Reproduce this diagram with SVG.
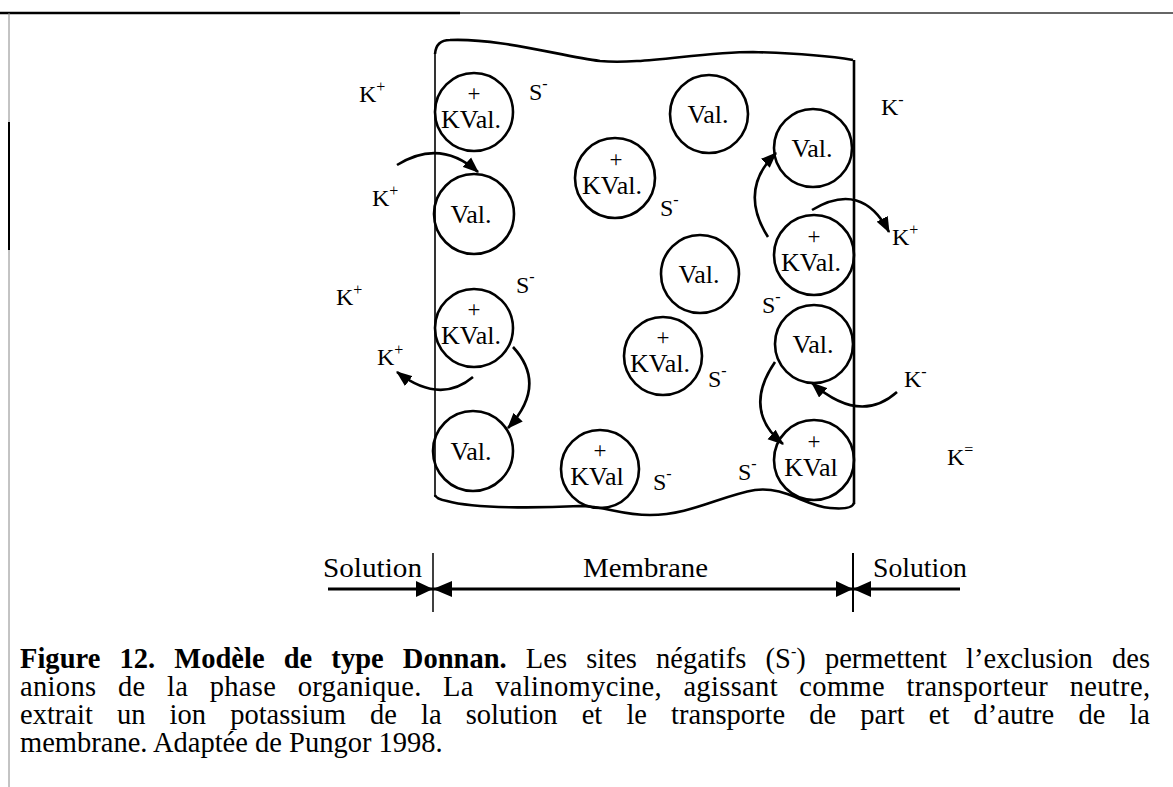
<svg xmlns="http://www.w3.org/2000/svg" width="1173" height="787" viewBox="0 0 1173 787">
<style>
text{font-family:"Liberation Serif",Tinos,"Times New Roman","DejaVu Serif",serif;fill:#000}
.ion{font-size:24px}
.sup{font-size:16px}
.cl{font-size:26px;text-anchor:middle}
.pl{font-size:23px;text-anchor:middle}
.c{fill:none;stroke:#000;stroke-width:2.6}
.arr{fill:none;stroke:#000;stroke-width:2.6;marker-end:url(#ah)}
.cap{font-size:28.5px}
.lab{font-size:27px}
</style>
<defs>
<marker id="ah" viewBox="0 0 14 11" refX="13" refY="5.5" markerWidth="16" markerHeight="13" markerUnits="userSpaceOnUse" orient="auto">
<path d="M0,0 L14,5.5 L0,11 z" fill="#000"/>
</marker>
</defs>
<rect width="1173" height="787" fill="#fff"/>
<g id="frame">
<line x1="0" y1="13" x2="460" y2="13" stroke="#000" stroke-width="2.5"/>
<line x1="460" y1="13" x2="1173" y2="13" stroke="#333" stroke-width="1.5"/>
<line x1="9" y1="13" x2="9" y2="787" stroke="#888" stroke-width="1"/>
<line x1="9" y1="122" x2="9" y2="250" stroke="#000" stroke-width="2"/>
</g>
<g id="membrane">
<path d="M435,497 L435,52" fill="none" stroke="#000" stroke-width="1.6"/>
<path d="M435,54 Q436,40 450,40 C500,38 560,56 600,61 C640,65 700,52 753,52 C790,53 830,56 853,60" fill="none" stroke="#000" stroke-width="2.6"/>
<path d="M854,60 L854,504" fill="none" stroke="#000" stroke-width="2.6"/>
<path d="M854,503 Q852,510 830,508 C805,506 785,486 755,490 C720,496 690,515 650,515 C620,515 605,506 580,506 C540,508 475,509 447,501 Q436,499 435,495" fill="none" stroke="#000" stroke-width="2.6"/>
</g>
<g id="kval1"><circle class="c" cx="474" cy="112" r="39"/><text class="pl" x="474" y="101">+</text><text class="cl" x="471" y="128">KVal.</text></g>
<g id="val1"><circle class="c" cx="474" cy="214" r="40"/><text class="cl" x="471" y="223">Val.</text></g>
<g id="kval2"><circle class="c" cx="474" cy="328" r="39"/><text class="pl" x="474" y="317">+</text><text class="cl" x="471" y="344">KVal.</text></g>
<g id="val2"><circle class="c" cx="473" cy="451" r="40"/><text class="cl" x="471" y="460">Val.</text></g>
<g id="kval3"><circle class="c" cx="615" cy="178" r="40"/><text class="pl" x="616" y="167">+</text><text class="cl" x="612" y="194">KVal.</text></g>
<g id="val3"><circle class="c" cx="709" cy="114" r="39"/><text class="cl" x="708" y="123">Val.</text></g>
<g id="val4"><circle class="c" cx="700" cy="274" r="39"/><text class="cl" x="699" y="283">Val.</text></g>
<g id="kval4"><circle class="c" cx="663" cy="356" r="39"/><text class="pl" x="663" y="345">+</text><text class="cl" x="660" y="372">KVal.</text></g>
<g id="kval5"><circle class="c" cx="600" cy="469" r="39"/><text class="pl" x="600" y="458">+</text><text class="cl" x="597" y="485">KVal</text></g>
<g id="val5"><circle class="c" cx="813" cy="148" r="39"/><text class="cl" x="812" y="157">Val.</text></g>
<g id="kval6"><circle class="c" cx="814" cy="255" r="40"/><text class="pl" x="814" y="244">+</text><text class="cl" x="811" y="271">KVal.</text></g>
<g id="val6"><circle class="c" cx="814" cy="344" r="39"/><text class="cl" x="813" y="353">Val.</text></g>
<g id="kval7"><circle class="c" cx="814" cy="460" r="40"/><text class="pl" x="814" y="449">+</text><text class="cl" x="811" y="476">KVal</text></g>
<g id="ions">
<text class="ion" x="359" y="102">K<tspan class="sup" dy="-10">+</tspan></text>
<text class="ion" x="372" y="206">K<tspan class="sup" dy="-10">+</tspan></text>
<text class="ion" x="336" y="305">K<tspan class="sup" dy="-10">+</tspan></text>
<text class="ion" x="377" y="365">K<tspan class="sup" dy="-10">+</tspan></text>
<text class="ion" x="881" y="115">K<tspan class="sup" dy="-10">-</tspan></text>
<text class="ion" x="892" y="245">K<tspan class="sup" dy="-10">+</tspan></text>
<text class="ion" x="904" y="387">K<tspan class="sup" dy="-10">-</tspan></text>
<text class="ion" x="947" y="465">K<tspan class="sup" dy="-10">=</tspan></text>
<text class="ion" x="529" y="100">S<tspan class="sup" dy="-11">-</tspan></text>
<text class="ion" x="660" y="216">S<tspan class="sup" dy="-11">-</tspan></text>
<text class="ion" x="516" y="293">S<tspan class="sup" dy="-11">-</tspan></text>
<text class="ion" x="708" y="387">S<tspan class="sup" dy="-11">-</tspan></text>
<text class="ion" x="762" y="313">S<tspan class="sup" dy="-11">-</tspan></text>
<text class="ion" x="653" y="490">S<tspan class="sup" dy="-11">-</tspan></text>
<text class="ion" x="738" y="480">S<tspan class="sup" dy="-11">-</tspan></text>
</g>
<g id="connectors">
<path class="arr" d="M397,165 Q440,138 478,172"/>
<path class="arr" d="M473,377 Q440,405 397,372"/>
<path class="arr" d="M513,347 Q548,385 508,428"/>
<path class="arr" d="M768,237 Q738,190 776,153"/>
<path class="arr" d="M812,210 Q862,180 889,232"/>
<path class="arr" d="M897,392 Q860,425 812,383"/>
<path class="arr" d="M775,362 Q742,410 783,444"/>
</g>
<g id="scale">
<line x1="328" y1="589" x2="960" y2="589" stroke="#000" stroke-width="3"/>
<line x1="433" y1="553" x2="433" y2="612" stroke="#000" stroke-width="1.5"/>
<line x1="853" y1="553" x2="853" y2="612" stroke="#000" stroke-width="2"/>
<polygon points="433,589 416,581 416,597"/>
<polygon points="433,589 452,581 452,597"/>
<polygon points="853,589 836,581 836,597"/>
<polygon points="853,589 871,581 871,597"/>
<text class="lab" x="323" y="577" textLength="99" lengthAdjust="spacingAndGlyphs">Solution</text>
<text class="lab" x="583" y="577" textLength="125" lengthAdjust="spacingAndGlyphs">Membrane</text>
<text class="lab" x="873" y="577" textLength="94" lengthAdjust="spacingAndGlyphs">Solution</text>
</g>
<g id="caption">
<text class="cap" x="20" y="668" word-spacing="12" textLength="1130" lengthAdjust="spacing"><tspan font-weight="bold">Figure 12. Modèle de type Donnan.</tspan> Les sites négatifs (S<tspan font-size="16" dy="-11">-</tspan><tspan dy="11">) permettent l’exclusion des</tspan></text>
<text class="cap" x="20" y="696" word-spacing="14" textLength="1130" lengthAdjust="spacing">anions de la phase organique.  La valinomycine, agissant comme transporteur neutre,</text>
<text class="cap" x="20" y="724" word-spacing="17" textLength="1130" lengthAdjust="spacing">extrait un ion potassium de la solution et le transporte de part et d’autre de la</text>
<text class="cap" x="20" y="752">membrane. Adaptée de Pungor 1998.</text>
</g>
</svg>
